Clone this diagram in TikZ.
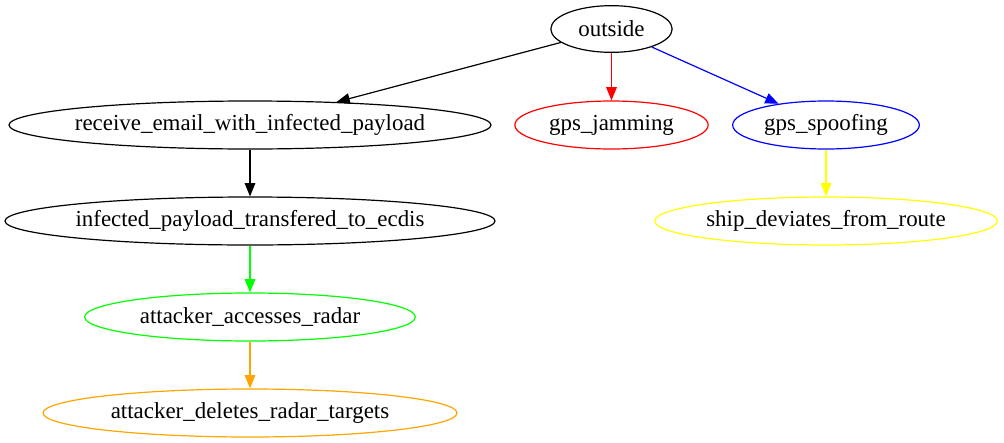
\documentclass[tikz,border=0pt]{standalone}
\usepackage{fontspec}
\setmainfont{Liberation Serif}
\usetikzlibrary{arrows.meta,shapes.geometric}
\definecolor{dotred}{HTML}{FF0000}
\definecolor{dotblue}{HTML}{0000FF}
\definecolor{dotgreen}{HTML}{00FF00}
\definecolor{dotyellow}{HTML}{FFFF00}
\definecolor{dotorange}{HTML}{FFA500}

\begin{document}
\begin{tikzpicture}[x=0.75pt,y=-0.75pt,font=\fontsize{17.2}{19}\selectfont,
   state/.style={ellipse,draw,line width=0.9pt,inner xsep=-60pt,inner ysep=0pt,minimum height=36pt},
   edge/.style={-{Triangle[length=10pt,width=8pt]},line width=0.9pt}]
  \useasboundingbox (0,0) rectangle (1004,443);
  \node[state,minimum width=91pt,minimum height=35pt] (outside) at (611.5,29) {outside};
  \node[state,minimum width=361.5pt] (receive) at (250,125) {receive\_email\_with\_infected\_payload};
  \node[state,draw=dotred,minimum width=145pt] (jamming) at (611.5,125) {gps\_jamming};
  \node[state,draw=dotblue,minimum width=140pt] (spoofing) at (826,125) {gps\_spoofing};
  \node[state,minimum width=367.5pt] (ecdis) at (250,221) {infected\_payload\_transfered\_to\_ecdis};
  \node[state,draw=dotyellow,minimum width=257pt] (deviates) at (826,221) {ship\_deviates\_from\_route};
  \node[state,draw=dotgreen,minimum width=248pt] (accesses) at (250,317) {attacker\_accesses\_radar};
  \node[state,draw=dotorange,minimum width=310.5pt] (deletes) at (250,413) {attacker\_deletes\_radar\_targets};
  % edges
  \draw[edge] (outside) -- (receive);
  \draw[edge,dotred] (outside) -- (jamming);
  \draw[edge,dotblue] (outside) -- (spoofing);
  \draw[edge] (receive) -- (ecdis);
  \draw[edge,dotyellow] (spoofing) -- (deviates);
  \draw[edge,dotgreen] (ecdis) -- (accesses);
  \draw[edge,dotorange] (accesses) -- (deletes);
\end{tikzpicture}
\end{document}
